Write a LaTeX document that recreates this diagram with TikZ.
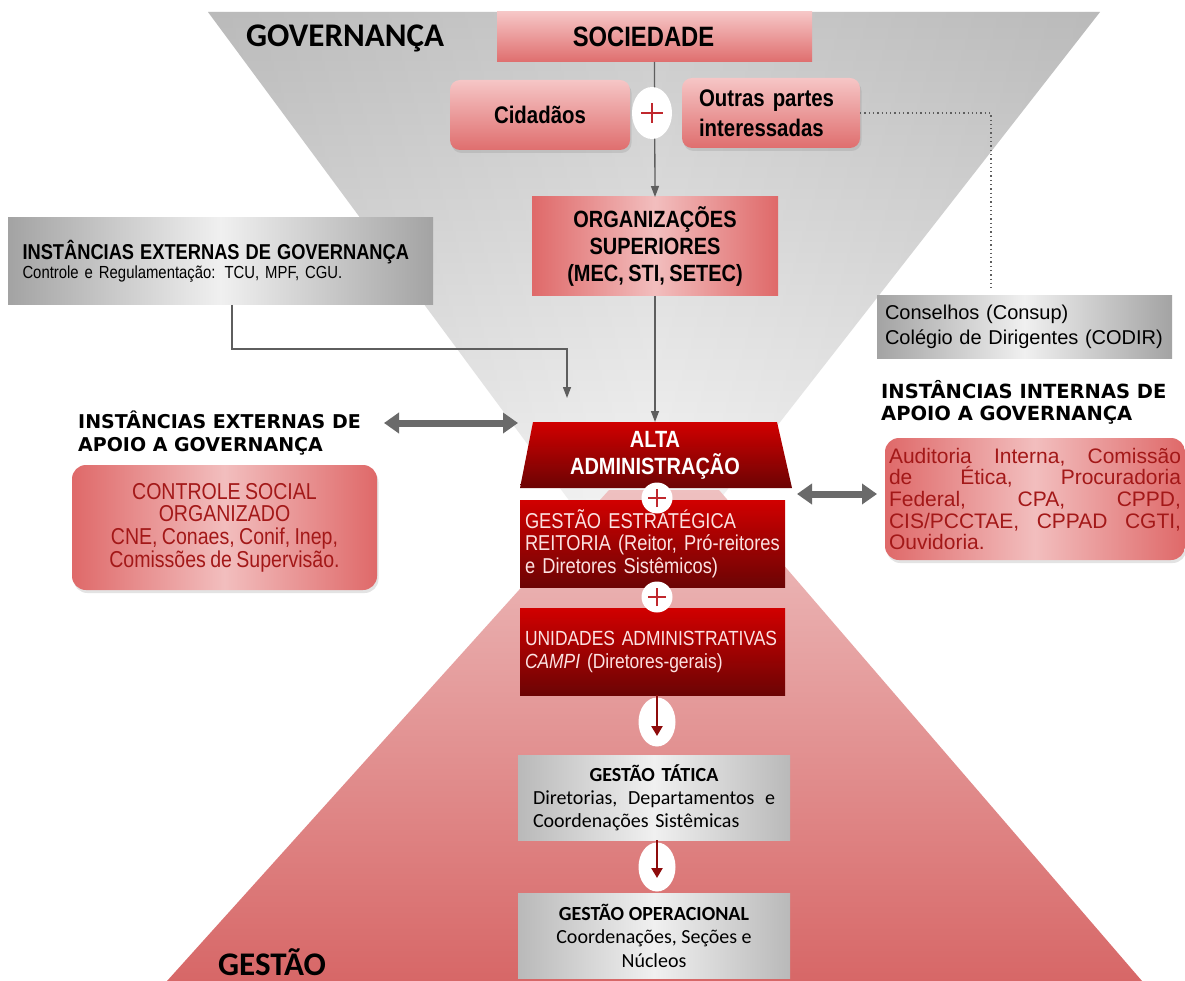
\documentclass[tikz,border=0pt]{standalone}
\usepackage{fontspec}
\setmainfont{Liberation Sans}
\newfontfamily\nar{Liberation Sans}[FakeStretch=0.85,WordSpace=0.8]
\newfontfamily\calfont{Carlito}
\newfontfamily\verfont{DejaVu Sans}
\usetikzlibrary{arrows.meta,shapes.geometric,shadows}
\newcommand{\fsz}[2]{\fontsize{#1}{#2}\selectfont}
\definecolor{cline}{HTML}{5E5E5E}
\definecolor{arrgray}{HTML}{6A6A6A}
\definecolor{pinktop}{HTML}{F6C6C6}
\definecolor{pinkbot}{HTML}{DF6E6E}
\definecolor{redge}{HTML}{DF6969}
\definecolor{rmid}{HTML}{F2BEBE}
\definecolor{drtop}{HTML}{D10000}
\definecolor{drbot}{HTML}{6C0404}
\definecolor{gedge}{HTML}{A3A3A3}
\definecolor{gmid}{HTML}{F0F0F0}
\definecolor{tedge}{HTML}{B9B9B9}
\definecolor{darkred}{HTML}{A31818}
\definecolor{lightpink}{HTML}{FCE2E2}
\definecolor{plusred}{HTML}{C0282D}
\definecolor{arrred}{HTML}{8E0C0C}
\definecolor{funtop}{HTML}{C4C4C4}
\definecolor{funbot}{HTML}{FBFBFB}
\definecolor{redftop}{HTML}{EEC0C0}
\definecolor{redfbot}{HTML}{D76767}
\tikzset{
  box/.style={inner sep=0pt, outer sep=0pt, draw=none},
  pinkbox/.style={box, top color=pinktop, bottom color=pinkbot},
  softshadow/.style={drop shadow={opacity=0.22, shadow xshift=1.5pt, shadow yshift=-3pt}},
  redbox/.style={box, left color=redge, right color=redge, middle color=rmid},
  darkbox/.style={box, top color=drtop, bottom color=drbot},
  graybox/.style={box, left color=gedge, right color=gedge, middle color=gmid},
  tbox/.style={box, left color=tedge, right color=tedge, middle color=gmid},
  conn/.style={draw=cline, line width=1.3pt, -{Triangle[length=11pt,width=8pt]}},
  dotline/.style={draw=cline, line width=1.3pt, dash pattern=on 1.3pt off 3pt},
  dbl/.style={draw=arrgray, line width=7pt, {Triangle[length=15pt,width=20pt]}-{Triangle[length=15pt,width=20pt]}},
  redarr/.style={draw=arrred, line width=2.4pt, -{Triangle[length=10pt,width=11pt]}},
  bigplus/.style={ellipse, fill=white, inner sep=0pt, minimum width=40pt, minimum height=52pt,
    path picture={\draw[plusred, line width=2.6pt]
      ([xshift=-11pt]path picture bounding box.center) -- ([xshift=11pt]path picture bounding box.center)
      ([yshift=-10pt]path picture bounding box.center) -- ([yshift=10pt]path picture bounding box.center);}},
  smallplus/.style={circle, fill=white, inner sep=0pt, minimum size=31pt,
    path picture={\draw[plusred, line width=2pt]
      ([xshift=-9pt]path picture bounding box.center) -- ([xshift=9pt]path picture bounding box.center)
      ([yshift=-9pt]path picture bounding box.center) -- ([yshift=9pt]path picture bounding box.center);}},
  downell/.style={ellipse, fill=white, inner sep=0pt, minimum width=37pt, minimum height=49pt},
}
\begin{document}
\begin{tikzpicture}[x=1pt,y=-1pt]
\useasboundingbox (0,0) rectangle (1185,981);
\fill[white] (0,0) rectangle (1185,981);
% funnels
\shade[top color=funtop, bottom color=funbot] (208,12) -- (1100,12) -- (642,599) -- cycle;
\shade[left color=black!55, right color=black!55, middle color=white, opacity=0.12] (208,12) -- (1100,12) -- (642,599) -- cycle;
\shade[top color=redftop, bottom color=redfbot] (609,490) -- (719,490) -- (1142,981) -- (167,981) -- cycle;
% titles
\node[anchor=base west, inner sep=0pt, font=\calfont\bfseries\fsz{33}{33}] (gov) at (246,47) {GOVERNANÇA};
\node[anchor=base west, inner sep=0pt, font=\calfont\bfseries\fsz{33}{33}] (gest) at (218,975) {GESTÃO};
% top boxes
\node[pinkbox, minimum width=315pt, minimum height=50pt, font=\nar\bfseries\fsz{28}{28}] (soc) at (654.5,37) {\hspace*{-22pt}SOCIEDADE};
\node[pinkbox, softshadow, rounded corners=10pt, minimum width=180pt, minimum height=70pt, font=\nar\bfseries\fsz{24}{24}] (cid) at (540,115) {Cidadãos};
\node[pinkbox, softshadow, rounded corners=10pt, minimum width=178pt, minimum height=70pt, text width=144pt, align=left, font=\nar\bfseries\fsz{24}{30}] (out) at (771,113) {Outras partes\\interessadas};
\node[redbox, minimum width=246pt, minimum height=99pt, align=center, font=\nar\bfseries\fsz{23.5}{27}] (org) at (655,246.5) {ORGANIZAÇÕES\\SUPERIORES\\(MEC, STI, SETEC)};
% external governance
\node[graybox, minimum width=425pt, minimum height=87pt, text width=396pt, align=left, font=\fsz{18}{19}] (ext) at (220.5,261.5) {{\nar\bfseries\fsz{21.5}{19}\hyphenpenalty=10000 INSTÂNCIAS EXTERNAS DE GOVERNANÇA}\\{\nar\fsz{17.5}{19}Controle e Regulamentação: TCU, MPF, CGU.}};
% councils
\node[graybox, minimum width=295pt, minimum height=63pt, text width=279pt, align=left, font=\fsz{20}{25}] (cons) at (1024.5,327) {Conselhos (Consup)\\Colégio de Dirigentes (CODIR)};
% side titles
\node[anchor=north west, align=left, inner sep=0pt, font=\verfont\bfseries\fsz{19.5}{22.5}] (intt) at (881,380) {INSTÂNCIAS INTERNAS DE\\APOIO A GOVERNANÇA};
\node[anchor=north west, align=left, inner sep=0pt, font=\verfont\bfseries\fsz{19}{22.5}] (extt) at (78,411) {INSTÂNCIAS EXTERNAS DE\\APOIO A GOVERNANÇA};
% side red boxes
\node[redbox, softshadow, rounded corners=14pt, minimum width=300pt, minimum height=122pt, text width=292pt, align=left, text=darkred, font=\fsz{21}{21.7}] (intb) at (1035,499) {\makebox[292pt]{Auditoria\hfill Interna,\hfill Comissão}\\\makebox[292pt]{de\hfill Ética,\hfill Procuradoria}\\\makebox[292pt]{Federal,\hfill CPA,\hfill CPPD,}\\\makebox[292pt]{CIS/PCCTAE,\hfill CPPAD\hfill CGTI,}\\Ouvidoria.};
\node[redbox, softshadow, rounded corners=14pt, minimum width=305pt, minimum height=125pt, align=center, text=darkred, font=\nar\fsz{23}{22.7}] (ctrl) at (224.5,527.5) {CONTROLE SOCIAL\\ORGANIZADO\\CNE, Conaes, Conif, Inep,\\Comissões de Supervisão.};
% alta administracao
\shade[top color=drtop, bottom color=drbot] (533,422) -- (777,422) -- (792,488) -- (520,488) -- cycle;
\node[box, minimum width=244pt, minimum height=66pt, align=center, text=white, font=\nar\bfseries\fsz{23.5}{27}] (alta) at (655,455) {ALTA\\ADMINISTRAÇÃO};
% management boxes
\node[darkbox, minimum width=265pt, minimum height=87pt, text width=255pt, align=left, text=lightpink, font=\nar\fsz{21.5}{22.5}] (gest1) at (652.5,543.5) {GESTÃO ESTRATÉGICA\\REITORIA (Reitor, Pró-reitores\\e Diretores Sistêmicos)};
\node[darkbox, minimum width=265pt, minimum height=87pt, text width=255pt, align=left, text=lightpink, font=\nar\fsz{20.5}{23}] (uni) at (652.5,651.5) {UNIDADES ADMINISTRATIVAS\\\textit{CAMPI} (Diretores-gerais)};
\node[tbox, minimum width=272pt, minimum height=85pt, text width=242pt, align=left, font=\calfont\fsz{20}{23}] (tat) at (654,797.5) {\makebox[242pt]{\bfseries GESTÃO TÁTICA}\\\makebox[242pt]{Diretorias,\hfill Departamentos\hfill e}\\Coordenações Sistêmicas};
\node[tbox, minimum width=272pt, minimum height=85pt, align=center, font=\calfont\fsz{20}{23.5}] (op) at (654,935.5) {{\bfseries GESTÃO OPERACIONAL}\\Coordenações, Seções e\\Núcleos};
% connectors
\draw[conn] (soc.south) -- (org.north);
\draw[conn] (org.south) -- (alta.north);
\draw[conn, shorten >=24pt] ([xshift=11.5pt]ext.south) -- ++(0,44) -| ([xshift=-88pt]alta.north);
\coordinate (dotend) at (991,288);
\draw[dotline] (out.east) -| (dotend);
\coordinate (la) at (384,423);
\coordinate (lb) at (518,423);
\draw[dbl] (la) -- (lb);
\coordinate (ra) at (797,494);
\coordinate (rb) at (877,494);
\draw[dbl] (ra) -- (rb);
% plus signs
\node[bigplus] (p1) at (652,113) {};
\node[smallplus] (p2) at (657,498) {};
\node[smallplus] (p3) at (657,597) {};
% down arrows
\node[downell] (d1) at (657,722) {};
\node[downell] (d2) at (657,867) {};
\draw[redarr, shorten >=19pt] (uni.south -| d1) -- (tat.north -| d1);
\draw[redarr, shorten >=15pt] (tat.south -| d2) -- (op.north -| d2);
\end{tikzpicture}
\end{document}
